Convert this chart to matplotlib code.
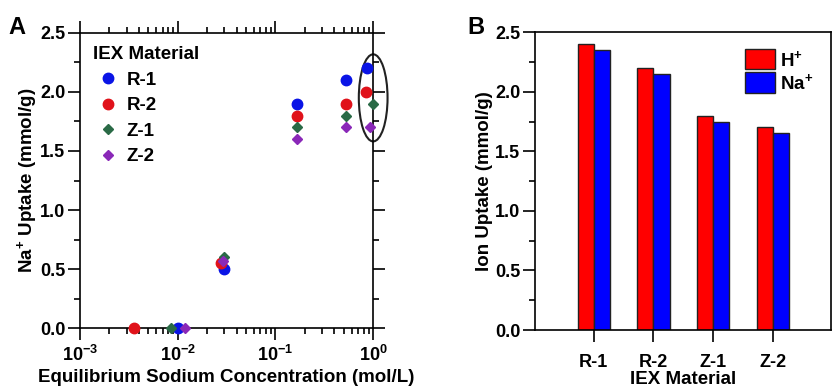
import matplotlib
matplotlib.use("Agg")
import matplotlib.pyplot as plt
from matplotlib.patches import Ellipse
from matplotlib.ticker import LogLocator, MultipleLocator
import numpy as np

plt.rcParams['font.family'] = ['Liberation Sans', 'DejaVu Sans']
plt.rcParams['font.weight'] = 'bold'
plt.rcParams['axes.labelweight'] = 'bold'
plt.rcParams['mathtext.fontset'] = 'custom'
plt.rcParams['mathtext.rm'] = 'Liberation Sans:bold'
plt.rcParams['mathtext.bf'] = 'Liberation Sans:bold'
plt.rcParams['mathtext.default'] = 'regular'

# panel A: equilibrium Na+ concentration (mol/L) vs Na+ uptake (mmol/g)
r1_conc = [0.010, 0.030, 0.167, 0.53, 0.87]
r1_uptake = [0.0, 0.50, 1.90, 2.10, 2.20]
r2_conc = [0.0036, 0.028, 0.167, 0.53, 0.85]
r2_uptake = [0.0, 0.55, 1.80, 1.90, 2.00]
z1_conc = [0.0085, 0.030, 0.167, 0.53, 1.0]
z1_uptake = [0.0, 0.60, 1.70, 1.80, 1.90]
z2_conc = [0.012, 0.029, 0.167, 0.53, 0.93]
z2_uptake = [0.0, 0.57, 1.60, 1.70, 1.70]

# panel B: ion uptake per material
materials = ['R-1', 'R-2', 'Z-1', 'Z-2']
h_uptake = [2.40, 2.20, 1.80, 1.70]
na_uptake = [2.35, 2.15, 1.75, 1.65]

TICK = 13
LABEL = 13.5

fig = plt.figure(figsize=(8.33, 3.92), dpi=100)

# ---------- panel A ----------
ax = fig.add_axes([0.096, 0.163, 0.352, 0.753])
series = [
    ('R-1', r1_conc, r1_uptake, 'o', '#0a14e6', 7.5),
    ('R-2', r2_conc, r2_uptake, 'o', '#e0121a', 7.5),
    ('Z-1', z1_conc, z1_uptake, 'D', '#2a6a46', 5),
    ('Z-2', z2_conc, z2_uptake, 'D', '#8a28b8', 5),
]
for name, xs, ys, m, c, ms in series:
    ax.plot(xs, ys, ls='none', marker=m, color=c, markersize=ms,
            label=name, clip_on=False, zorder=3)
ax.set_xscale('log')
ax.set_xlim(1e-3, 1)
ax.set_ylim(0, 2.5)
ax.xaxis.set_major_locator(LogLocator(base=10, numticks=10))
ax.xaxis.set_minor_locator(LogLocator(base=10, subs=np.arange(2, 10), numticks=10))
ax.yaxis.set_major_locator(MultipleLocator(0.5))
ax.yaxis.set_minor_locator(MultipleLocator(0.25))
ax.yaxis.set_major_formatter(plt.FormatStrFormatter('%.1f'))
ax.tick_params(which='both', direction='out', top=True, right=True,
               labelsize=TICK, width=1.2)
ax.tick_params(which='major', length=8.5)
ax.tick_params(which='minor', length=4.5)
ax.tick_params(axis='y', pad=2)
for s in ax.spines.values():
    s.set_linewidth(1.2)
ax.set_xlabel('Equilibrium Sodium Concentration (mol/L)', fontsize=LABEL, labelpad=3)
ax.set_ylabel('Na$^{+}$ Uptake (mmol/g)', fontsize=LABEL, labelpad=1)
leg = ax.legend(title='IEX Material', loc='upper left', frameon=False,
                fontsize=LABEL, title_fontsize=LABEL, handletextpad=0.2,
                labelspacing=0.45, borderaxespad=0.4, borderpad=0.3,
                handlelength=1.6)
leg.get_title().set_fontweight('bold')
leg._legend_box.align = 'left'

# ellipse around the highest concentration points
last_y = np.mean([r1_uptake[-1], r2_uptake[-1], z1_uptake[-1], z2_uptake[-1]])
cx, cy = ax.transAxes.inverted().transform(ax.transData.transform((1.0, last_y)))
ax.add_patch(Ellipse((cx, cy), 0.098, 0.295, transform=ax.transAxes,
                     fill=False, edgecolor='#222222', lw=1.5, clip_on=False))
fig.text(0.010, 0.912, 'A', fontsize=17, fontweight='bold')

# ---------- panel B ----------
bx = fig.add_axes([0.642, 0.158, 0.355, 0.760])
pos = np.arange(len(materials))
w = 0.27
bx.bar(pos - w / 2, h_uptake, w, color='#ff0000', edgecolor='#222222',
       linewidth=1.0, label='H$^{+}$')
bx.bar(pos + w / 2, na_uptake, w, color='#0000ff', edgecolor='#222222',
       linewidth=1.0, label='Na$^{+}$')
bx.set_xlim(-0.99, 3.97)
bx.set_ylim(0, 2.5)
bx.set_xticks(pos)
bx.set_xticklabels(materials)
bx.yaxis.set_major_locator(MultipleLocator(0.5))
bx.yaxis.set_minor_locator(MultipleLocator(0.25))
bx.yaxis.set_major_formatter(plt.FormatStrFormatter('%.1f'))
bx.tick_params(which='both', direction='out', labelsize=TICK, width=1.2)
bx.tick_params(which='major', length=8.5)
bx.tick_params(which='minor', length=4.5)
bx.tick_params(axis='x', which='minor', bottom=False)
bx.tick_params(axis='x', pad=9)
bx.tick_params(axis='y', pad=2)
for s in bx.spines.values():
    s.set_linewidth(1.2)
bx.set_xlabel('IEX Material', fontsize=LABEL, labelpad=0)
bx.set_ylabel('Ion Uptake (mmol/g)', fontsize=LABEL, labelpad=1)
bx.legend(loc='upper right', frameon=False, fontsize=LABEL, handlelength=1.6,
          handleheight=1.3, labelspacing=0.15, handletextpad=0.3,
          borderaxespad=0.5)
fig.text(0.561, 0.912, 'B', fontsize=17, fontweight='bold')

fig.savefig('out.png', dpi=100)
